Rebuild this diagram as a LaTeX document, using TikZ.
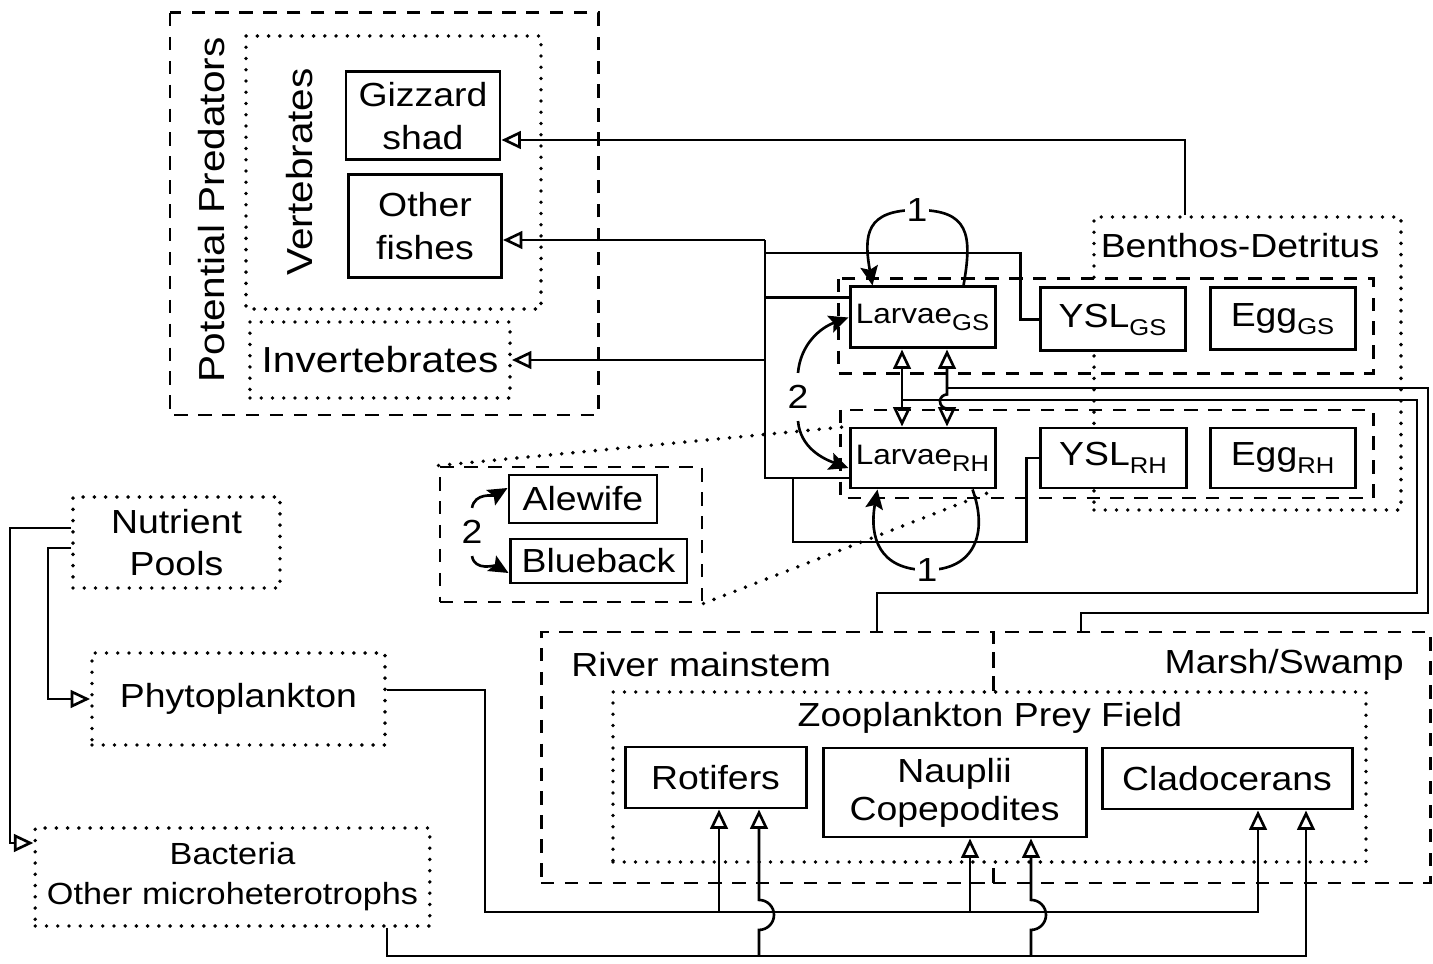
\documentclass[tikz,border=0pt]{standalone}
\usepackage{fontspec}
\setmainfont{Liberation Sans}[FakeStretch=1.12]
\usetikzlibrary{arrows.meta}
\newcommand{\lowtag}[1]{\raisebox{-0.45ex}{\fontsize{6.5}{7}\selectfont #1}}
\begin{document}
\begin{tikzpicture}[x=0.1mm, y=-0.1mm,
    every node/.style={font=\fontsize{9.5}{12}\selectfont, align=center},
    big/.style={font=\fontsize{10.3}{12}\selectfont},
    small/.style={font=\fontsize{8}{10}\selectfont},
    box/.style={draw, line width=0.85pt, fill=white, inner sep=0pt},
    dashbox/.style={draw, line width=0.85pt, dash pattern=on 3.8pt off 3pt},
    dotbox/.style={draw, line width=1.1pt, line cap=round, dash pattern=on 0pt off 3.2pt},
    lens/.style={dotbox},
    link/.style={line width=0.75pt},
    feed/.style={link, -{Triangle[open, length=5.5pt, width=5pt]}},
    both/.style={link, {Triangle[open, length=5.5pt, width=5pt]}-{Triangle[open, length=5.5pt, width=5pt]}},
    eat/.style={link, -{Stealth[length=5.5pt, width=5pt, inset=1pt]}}]
    \useasboundingbox (0,0) rectangle (1433,964);

    \draw[dashbox] (170,13) rectangle (598,415);
    \draw[dotbox] (246,36) rectangle (541,309);
    \node[dotbox, big, minimum width=26mm, minimum height=7.6mm] (invert) at (380,360) {Invertebrates};
    \node[big, rotate=90] (predlab) at (212,210) {Potential Predators};
    \node[big, rotate=90] (vertlab) at (300,172) {Vertebrates};
    \node[dotbox, minimum width=30.7mm, minimum height=29.3mm] (benthos) at (1247.5,363.5) {};
    \node (benthlab) at (1240,246) {Benthos-Detritus};
    \draw[dashbox] (838,279) rectangle (1373,374);
    \draw[dashbox] (840,410) rectangle (1373,498);
    \node[dashbox, minimum width=26.2mm, minimum height=13.5mm] (clupeid) at (571,534.5) {};
    \node[dotbox, minimum width=20.7mm, minimum height=9.1mm] (nutrient) at (176.5,542.5) {Nutrient\\Pools};
    \node[dotbox, minimum width=29.3mm, minimum height=9.2mm] (phyto) at (238.5,699) {Phytoplankton};
    \node[dotbox, minimum width=38.5mm, minimum height=9.8mm, font=\fontsize{8.7}{11.4}\selectfont] (bact) at (232.5,877) {Bacteria\\Other microheterotrophs};
    \node[dashbox, minimum width=45.2mm, minimum height=25.1mm] (river) at (767,757.5) {};
    \node[dashbox, minimum width=43.7mm, minimum height=25.1mm] (marsh) at (1211.5,757.5) {};
    \node[anchor=west] (rivlab) at (559,665) {River mainstem};
    \node[anchor=east] (marlab) at (1416,665) {Marsh/Swamp};
    \node[dotbox, fill=white, minimum width=75.3mm, minimum height=17mm] (zoo) at (989.5,777) {};
    \node (zoolab) at (990,718) {Zooplankton Prey Field};

    \node[box, minimum width=15.4mm, minimum height=8.8mm] (gizzard) at (423,116) {Gizzard\\shad};
    \node[box, minimum width=15.3mm, minimum height=10.3mm] (others) at (425,226) {Other\\fishes};
    \node[box, small, minimum width=14.5mm, minimum height=6.1mm] (lgs) at (922.5,317.5) {Larvae\lowtag{GS}};
    \node[box, minimum width=14.5mm, minimum height=6.3mm] (ysgs) at (1112.5,319.5) {YSL\lowtag{GS}};
    \node[box, minimum width=14.5mm, minimum height=6.2mm] (egs) at (1282.5,319) {Egg\lowtag{GS}};
    \node[box, small, minimum width=14.5mm, minimum height=6mm] (lrh) at (922.5,458) {Larvae\lowtag{RH}};
    \node[box, minimum width=14.6mm, minimum height=6mm] (ysrh) at (1113,458) {YSL\lowtag{RH}};
    \node[box, minimum width=14.5mm, minimum height=6mm] (erh) at (1282.5,458) {Egg\lowtag{RH}};
    \node[box, minimum width=14.8mm, minimum height=4.8mm] (alewife) at (583,499) {Alewife};
    \node[box, minimum width=17.7mm, minimum height=4.4mm] (blueback) at (598.5,561) {Blueback};
    \node[box, minimum width=18.1mm, minimum height=6.1mm] (rot) at (715.5,777.5) {Rotifers};
    \node[box, minimum width=26.3mm, minimum height=8.9mm, font=\fontsize{9.5}{10.8}\selectfont] (naup) at (954.5,792.5) {Nauplii\\Copepodites};
    \node[box, minimum width=25mm, minimum height=6.1mm] (clado) at (1227,778.5) {Cladocerans};

    \draw[lens] (clupeid.north west) -- (lrh.north west);
    \draw[lens] (clupeid.south east) -- (lrh.south east);

    \draw[feed] ([xshift=-6.25mm]benthos.north) |- ([yshift=-2.4mm]gizzard.east);
    \coordinate (bus) at (765,240);
    \draw[feed] (bus) -- (bus -| others.east);
    \draw[feed] (bus |- invert.east) -- (invert.east);
    \draw[link] ([yshift=2mm]lgs.west) -| (bus);
    \draw[link] ([yshift=-2mm]lrh.west) -| (bus);
    \draw[link] (ysgs.west) -- ++(-18,0) |- ([yshift=-1.3mm]bus);
    \coordinate (rhloop) at (793,542);
    \draw[link] (ysrh.west) -- ++(-12,0) |- (rhloop) |- ([yshift=-2mm]lrh.west);

    \draw[both] ([xshift=-2.05mm]lgs.south) -- ([xshift=-2.05mm]lrh.north);
    \draw[both] ([xshift=2.45mm]lgs.south) -- ++(0,45) arc[start angle=90, end angle=270, radius=0.7mm] -- ([xshift=2.45mm]lrh.north);
    \coordinate (tapR) at (902,400);
    \coordinate (tapM) at (947,388);
    \draw[link] (tapR) -| (1417,593) -| ([xshift=11mm]river.north);
    \draw[link] (tapM) -| (1428,613) -| ([xshift=-13.05mm]marsh.north);

    \coordinate (onetop) at (917,210);
    \draw[eat] ([xshift=4.1mm]lgs.north) to[out=80, in=0, looseness=1.5] (onetop) to[out=180, in=100, looseness=1.5] ([xshift=-5mm]lgs.north);
    \node[fill=white, inner sep=0.5pt] (onea) at (onetop) {1};
    \coordinate (onebot) at (927,570);
    \draw[eat] ([xshift=5mm]lrh.south) to[out=-70, in=0, looseness=1.3] (onebot) to[out=180, in=-100, looseness=1.3] ([xshift=-4.5mm]lrh.south);
    \node[fill=white, inner sep=0.5pt] (oneb) at (onebot) {1};

    \node (twoa) at (798,397) {2};
    \draw[eat] (twoa.north) to[out=85, in=200] (lgs.west);
    \draw[eat] (twoa.south) to[out=-85, in=160] ([yshift=-1mm]lrh.west);
    \node (twob) at (472,532) {2};
    \draw[eat] (twob.north) to[out=80, in=210] ([yshift=1.1mm]alewife.west);
    \draw[eat] (twob.south) to[out=-80, in=150] ([yshift=-1.2mm]blueback.west);

    \draw[feed] ([yshift=1.45mm]nutrient.west) -- ++(-61,0) |- ([yshift=3.4mm]bact.west);
    \draw[feed] ([yshift=-0.55mm]nutrient.west) -- ++(-23,0) |- (phyto.west);

    \coordinate (rA) at ([xshift=0.35mm]rot.south);
    \coordinate (rB) at ([xshift=4.35mm]rot.south);
    \coordinate (nA) at ([xshift=1.55mm]naup.south);
    \coordinate (nB) at ([xshift=7.65mm]naup.south);
    \coordinate (cA) at ([xshift=3.1mm]clado.south);
    \coordinate (cB) at ([xshift=7.9mm]clado.south);
    \coordinate (phyc) at (485,912);
    \draw[feed] ([yshift=0.9mm]phyto.east) -| (phyc) -| (cA);
    \draw[feed] (rA |- phyc) -- (rA);
    \draw[feed] (nA |- phyc) -- (nA);
    \coordinate (bacc) at ([xshift=15.45mm, yshift=-2.8mm]bact.south);
    \draw[feed] ([xshift=15.45mm]bact.south) -- (bacc) -| (cB);
    \draw[feed] (rB |- bacc) -- ++(0,-26) arc[start angle=-90, end angle=90, radius=1.5mm] -- (rB);
    \draw[feed] (nB |- bacc) -- ++(0,-26) arc[start angle=-90, end angle=90, radius=1.5mm] -- (nB);
\end{tikzpicture}
\end{document}
